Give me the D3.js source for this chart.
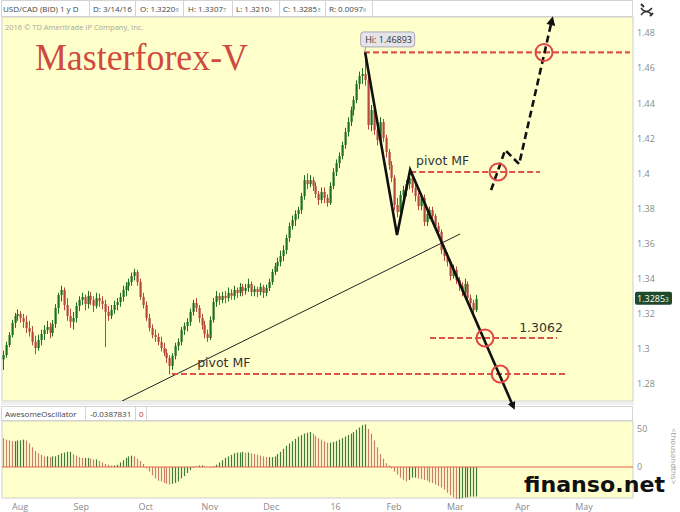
<!DOCTYPE html>
<html><head><meta charset="utf-8">
<script src="https://cdn.jsdelivr.net/npm/d3@7"></script>
<style>
html,body{margin:0;padding:0;background:#fff;}
svg{display:block;font-family:"Open Sans",sans-serif;}
</style></head><body><svg id="c" width="680" height="512"></svg>
<script>
// ---------- DATA ----------
const holidays = ["2015-12-25", "2016-01-01"];
const firstDay = "2015-07-28", lastDay = "2016-05-31";

const opens = [1.2940,1.2965,1.3022,1.3079,
1.3148,1.3188,1.3199,1.3176,1.3154,1.3119,1.3097,1.3040,1.3005,1.3051,
1.3085,1.3108,1.3125,1.3091,1.3142,1.3233,1.3307,1.3336,1.3250,1.3188,
1.3154,1.3176,1.3245,1.3279,1.3296,1.3256,1.3302,1.3279,1.3245,1.3290,
1.3273,1.3256,1.3211,1.3188,1.3222,1.3250,1.3267,1.3296,1.3336,1.3358,
1.3381,1.3415,1.3438,1.3381,1.3296,1.3250,1.3176,1.3119,1.3079,1.3068,
1.3040,1.3005,1.2977,1.2948,1.2903,1.2960,1.3017,1.3040,1.3108,1.3131,
1.3154,1.3211,1.3262,1.3233,1.3176,1.3136,1.3085,1.3062,1.3165,1.3267,
1.3302,1.3279,1.3302,1.3290,1.3319,1.3302,1.3336,1.3319,1.3353,1.3330,
1.3347,1.3370,1.3324,1.3341,1.3324,1.3353,1.3319,1.3347,1.3381,1.3438,
1.3472,1.3495,1.3529,1.3563,1.3632,1.3700,1.3734,1.3769,1.3791,1.3871,
1.3962,1.3939,1.3962,1.3928,1.3883,1.3848,1.3894,1.3860,1.3831,1.3928,
1.4008,1.4059,1.4099,1.4162,1.4236,1.4293,1.4361,1.4418,1.4509,1.4555,
1.4566,1.4532,1.4276,1.4361,1.4247,1.4190,1.4293,1.4202,1.4122,1.4048,
1.3974,1.3820,1.3780,1.3877,1.3905,1.3939,1.3974,1.3917,1.3871,1.3814,
1.3860,1.3723,1.3769,1.3791,1.3757,1.3700,1.3666,1.3563,1.3529,1.3495,
1.3415,1.3450,1.3393,1.3358,1.3324,1.3370,1.3290,1.3262,1.3221];

const highs = [1.2990,1.3040,1.3095,1.3165,
1.3205,1.3225,1.3215,1.3200,1.3190,1.3160,1.3130,1.3075,1.3080,1.3110,
1.3135,1.3160,1.3150,1.3165,1.3255,1.3320,1.3360,1.3350,1.3290,1.3230,
1.3210,1.3265,1.3300,1.3320,1.3310,1.3330,1.3325,1.3300,1.3320,1.3315,
1.3300,1.3280,1.3245,1.3250,1.3275,1.3290,1.3320,1.3360,1.3380,1.3400,
1.3435,1.3457,1.3450,1.3400,1.3320,1.3270,1.3200,1.3140,1.3110,1.3090,
1.3070,1.3035,1.3000,1.2965,1.2975,1.3035,1.3060,1.3125,1.3150,1.3175,
1.3230,1.3280,1.3290,1.3250,1.3200,1.3160,1.3110,1.3185,1.3290,1.3330,
1.3320,1.3325,1.3330,1.3350,1.3340,1.3360,1.3350,1.3375,1.3370,1.3370,
1.3400,1.3385,1.3360,1.3355,1.3375,1.3365,1.3365,1.3400,1.3455,1.3490,
1.3520,1.3560,1.3590,1.3650,1.3720,1.3760,1.3790,1.3810,1.3890,1.3990,
1.4000,1.3990,1.3980,1.3950,1.3900,1.3920,1.3920,1.3880,1.3950,1.4030,
1.4080,1.4120,1.4180,1.4260,1.4320,1.4380,1.4440,1.4530,1.4580,1.4600,
1.4689,1.4550,1.4390,1.4380,1.4270,1.4320,1.4310,1.4220,1.4140,1.4070,
1.3990,1.3860,1.3900,1.3930,1.3960,1.4010,1.3990,1.3940,1.3890,1.3880,
1.3880,1.3790,1.3810,1.3810,1.3770,1.3720,1.3680,1.3590,1.3550,1.3510,
1.3480,1.3470,1.3410,1.3380,1.3400,1.3385,1.3310,1.3280,1.3308];

const lows = [1.2880,1.2950,1.3010,1.3065,
1.3120,1.3160,1.3150,1.3120,1.3090,1.3070,1.3020,1.2970,1.2990,1.3020,
1.3050,1.3085,1.3060,1.3070,1.3120,1.3200,1.3270,1.3220,1.3160,1.3120,
1.3110,1.3150,1.3215,1.3250,1.3220,1.3230,1.3250,1.3210,1.3230,1.3240,
1.3225,1.3010,1.3160,1.3170,1.3200,1.3220,1.3240,1.3270,1.3300,1.3330,
1.3360,1.3390,1.3360,1.3280,1.3230,1.3160,1.3100,1.3060,1.3040,1.3020,
1.2985,1.2960,1.2920,1.2855,1.2880,1.2940,1.2990,1.3020,1.3080,1.3100,
1.3130,1.3190,1.3210,1.3150,1.3110,1.3060,1.3040,1.3050,1.3150,1.3240,
1.3250,1.3260,1.3260,1.3270,1.3280,1.3280,1.3290,1.3300,1.3300,1.3310,
1.3325,1.3300,1.3300,1.3295,1.3305,1.3290,1.3300,1.3330,1.3365,1.3420,
1.3440,1.3470,1.3500,1.3540,1.3610,1.3680,1.3700,1.3740,1.3770,1.3850,
1.3910,1.3920,1.3900,1.3860,1.3820,1.3830,1.3830,1.3810,1.3820,1.3910,
1.3985,1.4030,1.4080,1.4140,1.4210,1.4270,1.4330,1.4400,1.4480,1.4510,
1.4500,1.4250,1.4240,1.4220,1.4160,1.4170,1.4180,1.4090,1.4020,1.3950,
1.3790,1.3750,1.3760,1.3850,1.3870,1.3910,1.3890,1.3840,1.3790,1.3790,
1.3700,1.3700,1.3740,1.3730,1.3680,1.3640,1.3540,1.3500,1.3470,1.3390,
1.3400,1.3370,1.3330,1.3300,1.3310,1.3270,1.3240,1.3200,1.3210];

const closes = [1.2965,1.3022,1.3079,1.3148,
1.3188,1.3199,1.3176,1.3154,1.3119,1.3097,1.3040,1.3005,1.3051,1.3085,
1.3108,1.3125,1.3091,1.3142,1.3233,1.3307,1.3336,1.3250,1.3188,1.3154,
1.3176,1.3245,1.3279,1.3296,1.3256,1.3302,1.3279,1.3245,1.3290,1.3273,
1.3256,1.3211,1.3188,1.3222,1.3250,1.3267,1.3296,1.3336,1.3358,1.3381,
1.3415,1.3438,1.3381,1.3296,1.3250,1.3176,1.3119,1.3079,1.3068,1.3040,
1.3005,1.2977,1.2948,1.2903,1.2960,1.3017,1.3040,1.3108,1.3131,1.3154,
1.3211,1.3262,1.3233,1.3176,1.3136,1.3085,1.3062,1.3165,1.3267,1.3302,
1.3279,1.3302,1.3290,1.3319,1.3302,1.3336,1.3319,1.3353,1.3330,1.3347,
1.3370,1.3324,1.3341,1.3324,1.3353,1.3319,1.3347,1.3381,1.3438,1.3472,
1.3495,1.3529,1.3563,1.3632,1.3700,1.3734,1.3769,1.3791,1.3871,1.3962,
1.3939,1.3962,1.3928,1.3883,1.3848,1.3894,1.3860,1.3831,1.3928,1.4008,
1.4059,1.4099,1.4162,1.4236,1.4293,1.4361,1.4418,1.4509,1.4555,1.4566,
1.4532,1.4276,1.4361,1.4247,1.4190,1.4293,1.4202,1.4122,1.4048,1.3974,
1.3820,1.3780,1.3877,1.3905,1.3939,1.3974,1.3917,1.3871,1.3814,1.3860,
1.3723,1.3769,1.3791,1.3757,1.3700,1.3666,1.3563,1.3529,1.3495,1.3415,
1.3450,1.3393,1.3358,1.3324,1.3370,1.3290,1.3262,1.3221,1.3285];

// Awesome Oscillator, thousandths
const aoValues = [38,36,35,34,
34,35,35,36,35,31,26,21,18,16,
14,14,13,14,14,16,18,19,20,20,
17,15,13,12,12,12,11,10,10,8,
6,4,3,2,2,3,6,9,12,14,
15,14,11,8,4,-2,-6,-11,-15,-18,
-19,-21,-22,-23,-22,-21,-19,-15,-12,-8,
-4,-1,1,2,2,1,0,-1,1,3,
6,9,12,14,16,18,19,19,20,19,
19,18,17,16,15,14,13,13,13,14,
17,20,24,28,31,34,37,40,42,44,
45,46,44,41,38,36,34,32,32,33,
34,36,38,40,42,44,46,49,52,55,
56,50,44,35,26,17,11,5,2,-2,
-6,-10,-14,-17,-19,-17,-14,-14,-15,-16,
-17,-18,-20,-21,-23,-25,-27,-30,-34,-37,
-40,-42,-42,-41,-40,-40,-39,-39,-38.8];

const priceTicks = [1.28,1.30,1.32,1.34,1.36,1.38,1.40,1.42,1.44,1.46,1.48];
const aoTicks = [0, 50];
const monthLabels = ["Aug","Sep","Oct","Nov","Dec","16","Feb","Mar","Apr","May"];

const headerCells = ["USD/CAD (BID) 1 y D","D: 3/14/16","O: 1.32209","H: 1.33077","L: 1.32101","C: 1.32853","R: 0.00976"];
const aoHeader = ["AwesomeOscillator","-0.0387831","0"];
const lastPrice = "1.32853";
const hiLabel = "Hi: 1.46893";
const hiBar = 124, hiPrice = 1.46893;

// annotations in [bar index, price]
const zigzag = [[124,1.46893],[134.9,1.3649],[139.4,1.4020],[174.3,1.2686]];
const trendLine = [[40.8,1.2703],[156.5,1.3655]];
const forecast = [[167.1,1.3905],[171.9,1.4133],[176.7,1.4053],[187.6,1.4851]];
const levelPrices = [1.46893, 1.4008, 1.3062, 1.2857];
const levelFrom = [123.6, 139.4, 146.2, 57.9];
const levelTo = [214.6, 183.8, 189.7, 192.4];
const circles = [[185.2,1.46893],[169.5,1.4008],[165.0,1.3062],[170.2,1.2857]];
const notes = [["pivot MF",141.4,1.4048],["pivot MF",66.5,1.2897],["1.3062",176.7,1.3096]];

// ---------- CHART ----------
const svg = d3.select("#c");
const fmtDay = d3.timeFormat("%Y-%m-%d");
const days = d3.timeDay.range(d3.timeParse("%Y-%m-%d")(firstDay), d3.timeParse("%Y-%m-%d")(lastDay))
  .filter(d => d.getDay() !== 0 && d.getDay() !== 6 && !holidays.includes(fmtDay(d)));

const x = d3.scaleLinear().domain([4, 162]).range([14.5, 476.2]);
const y = d3.scaleLinear().domain([1.28, 1.48]).range([384, 33]);
const yA = d3.scaleLinear().domain([0, 50]).range([467, 429]);

const M = {x0:2, x1:633, y0:17, y1:401};
const O = {x0:2, x1:633, y0:421, y1:498};
const YELLOW = "#ffffcc";

const defs = svg.append("defs");
defs.append("clipPath").attr("id","clipM").append("rect")
  .attr("x",M.x0).attr("y",M.y0).attr("width",M.x1-M.x0).attr("height",M.y1-M.y0);
defs.append("marker").attr("id","arrS").attr("viewBox","0 0 10 10").attr("refX",2).attr("refY",5)
  .attr("markerUnits","userSpaceOnUse").attr("markerWidth",8).attr("markerHeight",8).attr("orient","auto")
  .append("path").attr("d","M0,0 L10,5 L0,10 z").attr("fill","#111");
defs.append("marker").attr("id","arrD").attr("viewBox","0 0 10 10").attr("refX",1).attr("refY",5)
  .attr("markerUnits","userSpaceOnUse").attr("markerWidth",10).attr("markerHeight",9).attr("orient","auto")
  .append("path").attr("d","M0,0 L10,5 L0,10 z").attr("fill","#111");

svg.append("rect").attr("width",680).attr("height",512).attr("fill","#fff");

// header row
svg.append("rect").attr("x",1.5).attr("y",0.5).attr("width",631).attr("height",16)
  .attr("fill","#fff").attr("stroke","#d4d4d4");
const hdrX = [3, 93, 140, 188, 236, 283, 329];
const hdrSep = [89, 135, 183, 232, 279, 325, 372];
hdrSep.forEach(s => svg.append("line").attr("x1",s+0.5).attr("x2",s+0.5).attr("y1",1).attr("y2",16).attr("stroke","#d4d4d4"));
headerCells.forEach((t,i) => {
  const tx = svg.append("text").attr("x",hdrX[i]).attr("y",12).attr("font-size",8).attr("fill","#444");
  if (/\d{5}$/.test(t)) {
    tx.append("tspan").text(t.slice(0,-1));
    tx.append("tspan").attr("font-size",5.5).attr("fill","#777").text(t.slice(-1));
  } else tx.text(t);
});
// top-right icon
const ic = svg.append("g").attr("stroke","#333").attr("stroke-width",1.4).attr("fill","none");
ic.append("path").attr("d","M641,8 q5,7 11,0");
ic.append("path").attr("d","M641,15 q5,-7 11,0");
ic.append("path").attr("d","M641,4 l3,3 M650,16 l3,-3").attr("stroke-width",2);

// main panel
svg.append("rect").attr("x",M.x0).attr("y",M.y0).attr("width",M.x1-M.x0).attr("height",M.y1-M.y0)
  .attr("fill",YELLOW).attr("stroke","#cfcfcf");
svg.append("text").attr("x",5).attr("y",30).attr("font-size",7.5).attr("fill","#a8a8a0")
  .text("2016 \u00A9 TD Ameritrade IP Company, Inc.");
svg.append("text").attr("x",35).attr("y",70).attr("font-family","'Liberation Serif','Times New Roman',serif")
  .attr("font-size",37).attr("fill","#cf4a3f").attr("textLength",213).attr("lengthAdjust","spacingAndGlyphs")
  .text("Masterforex-V");

// right price axis
const axR = svg.append("g").attr("transform",`translate(${M.x1},0)`)
  .call(d3.axisRight(y).tickValues(priceTicks).tickFormat(d3.format(".2~f")).tickSize(0).tickPadding(4));
axR.select(".domain").remove();
axR.selectAll("text").attr("font-size",9).attr("fill","#8a8a8a").attr("font-family","'Open Sans',sans-serif");

// candles
const bars = closes.map((c,k) => ({k, o:opens[k], h:highs[k], l:lows[k], c}));
const GREEN = "#1f6f22", RED = "#b4473e";
const cg = svg.append("g").attr("clip-path","url(#clipM)");
cg.selectAll("line.w").data(bars).join("line").attr("class","w")
  .attr("x1",d=>Math.round(x(d.k))+0.5).attr("x2",d=>Math.round(x(d.k))+0.5)
  .attr("y1",d=>y(d.h)).attr("y2",d=>y(d.l))
  .attr("stroke",d=>d.c>=d.o?GREEN:RED).attr("stroke-width",1);
cg.selectAll("rect.b").data(bars).join("rect").attr("class","b")
  .attr("x",d=>Math.round(x(d.k))-0.5).attr("width",2.2)
  .attr("y",d=>y(Math.max(d.o,d.c)))
  .attr("height",d=>Math.max(1,Math.abs(y(d.o)-y(d.c))))
  .attr("fill",d=>d.c>=d.o?GREEN:RED);

// trend line (thin)
const line = d3.line().x(d=>x(d[0])).y(d=>y(d[1]));
cg.append("path").attr("d",line(trendLine)).attr("stroke","#222").attr("stroke-width",1).attr("fill","none");

// current price tag
const ly = y(+lastPrice);
svg.append("rect").attr("x",635).attr("y",ly-7).attr("width",37).attr("height",13).attr("rx",2).attr("fill","#1e4a2c");
const lt = svg.append("text").attr("x",637).attr("y",ly+3).attr("font-size",9).attr("fill","#fff");
lt.append("tspan").text(lastPrice.slice(0,-1));
lt.append("tspan").attr("font-size",6.5).attr("fill","#cfe").text(lastPrice.slice(-1));

// separator strip
svg.append("rect").attr("x",1).attr("y",402).attr("width",633).attr("height",3).attr("fill","#eeeeee");

// oscillator header
svg.append("rect").attr("x",1.5).attr("y",406.5).attr("width",631).attr("height",14).attr("fill","#fff").attr("stroke","#d4d4d4");
const aoX = [5, 90, 139], aoSep = [85, 135, 146];
aoSep.forEach(s => svg.append("line").attr("x1",s+0.5).attr("x2",s+0.5).attr("y1",407).attr("y2",421).attr("stroke","#d4d4d4"));
aoHeader.forEach((t,i) => svg.append("text").attr("x",aoX[i]).attr("y",417).attr("font-size",8)
  .attr("fill", i===2 ? "#c0392b" : "#444").text(t));

// oscillator panel
svg.append("rect").attr("x",O.x0).attr("y",O.y0).attr("width",O.x1-O.x0).attr("height",O.y1-O.y0)
  .attr("fill",YELLOW).attr("stroke","#cfcfcf");
const ao = aoValues.map((v,k)=>({k, v, up: k===0 ? false : v >= aoValues[k-1]}));
svg.append("g").selectAll("line").data(ao).join("line")
  .attr("x1",d=>Math.round(x(d.k))+0.5).attr("x2",d=>Math.round(x(d.k))+0.5)
  .attr("y1",yA(0)).attr("y2",d=>yA(d.v))
  .attr("stroke",d=>d.up?"#3f7a38":"#c97d6b").attr("stroke-width",1.2);
svg.append("line").attr("x1",O.x0).attr("x2",O.x1).attr("y1",yA(0)).attr("y2",yA(0))
  .attr("stroke","#e0654c").attr("stroke-width",1.2);
const axA = svg.append("g").attr("transform",`translate(${O.x1},0)`)
  .call(d3.axisRight(yA).tickValues(aoTicks).tickSize(0).tickPadding(4));
axA.select(".domain").remove();
axA.selectAll("text").attr("font-size",9).attr("fill","#8a8a8a").attr("font-family","'Open Sans',sans-serif");
svg.append("text").attr("transform","translate(671,428) rotate(90)").attr("font-size",8).attr("fill","#9a9a9a")
  .text("<thousandths>");

// time axis labels (first trading day of each month)
const monthStarts = [];
days.forEach((d,k) => { if (k>0 && d.getMonth() !== days[k-1].getMonth()) monthStarts.push(k); });
svg.append("g").selectAll("text").data(monthStarts.slice(0, monthLabels.length)).join("text")
  .attr("x",k=>x(k)+5.5).attr("y",510).attr("text-anchor","middle").attr("font-size",9).attr("fill","#8a8a8a")
  .text((k,i)=>monthLabels[i]);

// ---------- annotations (on top) ----------
const RD = "#d9534f";
levelPrices.forEach((p,i) => {
  svg.append("line").attr("x1",x(levelFrom[i])).attr("x2",x(levelTo[i]))
    .attr("y1",y(p)).attr("y2",y(p))
    .attr("stroke",RD).attr("stroke-width",2.2).attr("stroke-dasharray","6,3");
});
svg.append("path").attr("d",line(zigzag)).attr("stroke","#111").attr("stroke-width",2.6)
  .attr("fill","none").attr("stroke-linejoin","miter").attr("marker-end","url(#arrS)");
svg.append("path").attr("d",line(forecast)).attr("stroke","#111").attr("stroke-width",2.6)
  .attr("fill","none").attr("stroke-dasharray","7,4").attr("marker-end","url(#arrD)");
svg.selectAll("circle.m").data(circles).join("circle").attr("class","m")
  .attr("cx",d=>x(d[0])).attr("cy",d=>y(d[1])).attr("r",8.5)
  .attr("fill","none").attr("stroke","#e04848").attr("stroke-width",2);
notes.forEach(n => svg.append("text").attr("x",x(n[1])).attr("y",y(n[2]))
  .attr("font-size",12.5).attr("fill","#333").attr("font-family","'DejaVu Sans',sans-serif").text(n[0]));

// Hi callout
const hx = x(hiBar), hy = y(hiPrice);
svg.append("path").attr("d",`M${hx+1},${hy-6} L${hx-1},${hy}`).attr("stroke","#999").attr("fill","none");
svg.append("rect").attr("x",hx-4.5).attr("y",hy-20.5).attr("width",54).attr("height",15).attr("rx",3)
  .attr("fill","#e4e4ea").attr("stroke","#a8a8b4");
svg.append("text").attr("x",hx).attr("y",hy-9.5).attr("font-size",9).attr("fill","#333").text(hiLabel);

// watermark
svg.append("text").attr("x",524).attr("y",492).attr("font-family","'DejaVu Sans',sans-serif").attr("font-weight","bold")
  .attr("font-size",22).attr("fill","#111").attr("textLength",141).attr("lengthAdjust","spacingAndGlyphs").text("finanso.net");
</script></body></html>
